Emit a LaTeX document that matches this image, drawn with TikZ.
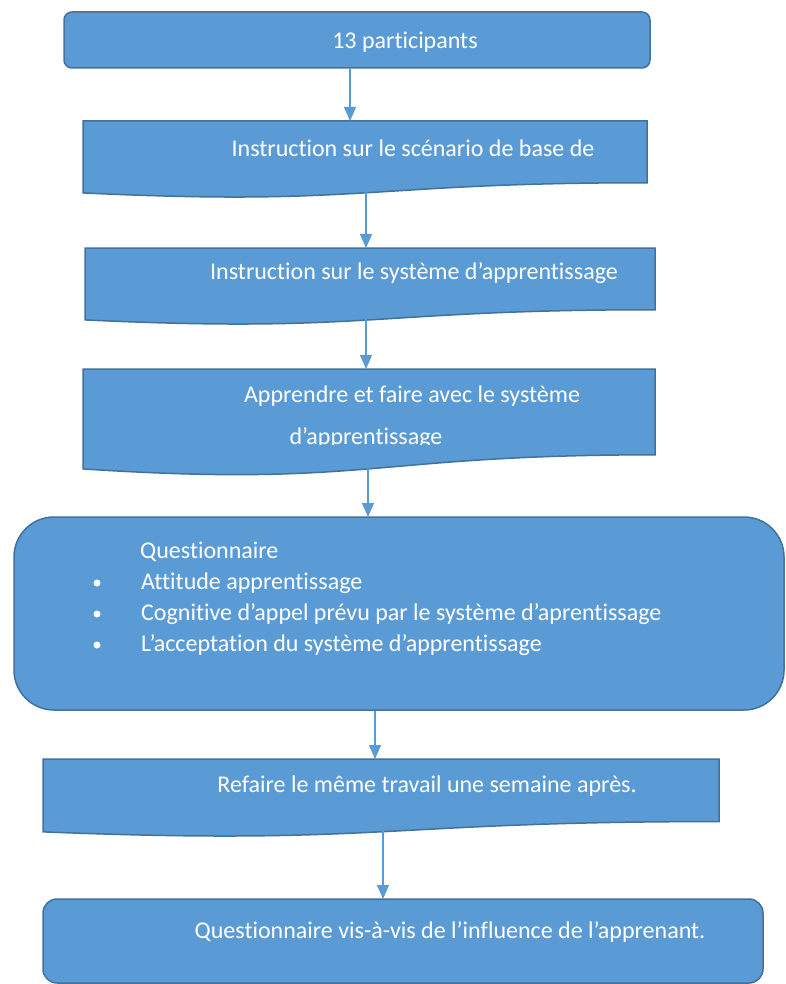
\documentclass[tikz,border=0pt]{standalone}
\usepackage{fontspec}
\setmainfont{Carlito}[Ligatures=NoCommon]
\usetikzlibrary{arrows.meta}
\definecolor{boxfill}{HTML}{5B9BD5}
\definecolor{boxline}{HTML}{41719C}
\newcommand\docbox[4]{\draw[boxshape] (#1,#3) -- (#2,#3) -- (#2,{#3+0.802*#4}) .. controls ({(#1+#2)/2},{#3+0.802*#4}) and ({(#1+#2)/2},{#3+1.1075*#4}) .. (#1,{#3+0.934*#4}) -- cycle;}
\begin{document}
\begin{tikzpicture}[x=1pt,y=-1pt,
  boxshape/.style={fill=boxfill,draw=boxline,line width=1.5pt},
  lbl/.style={text=white,font=\fontsize{24}{28}\selectfont,inner sep=0pt},
  conn/.style={draw=boxfill,line width=1.3pt,-{Triangle[width=12pt,length=14pt]}}]
\clip (0,0) rectangle (786,984);
\fill[white] (0,0) rectangle (786,984);
% shapes
\draw[boxshape,rounded corners=8pt] (64,12) rectangle (650,68);
\docbox{83}{647}{121}{77}
\docbox{85}{655}{248}{77}
\docbox{83}{655}{369}{107}
\draw[boxshape,rounded corners=40pt] (14,517) rectangle (784,710);
\docbox{43}{719}{759}{78}
\draw[boxshape,rounded corners=14pt] (43,899) rectangle (763,983);
% texts
\node[lbl] (t1) at (405,42) {13 participants};
\node[lbl] (t2) at (413,148) {Instruction sur le scénario de base de};
\node[lbl] (t3) at (414,273) {Instruction sur le système d’apprentissage};
\node[lbl] (t4a) at (412,396) {Apprendre et faire avec le système};
\begin{scope}
\clip (200,420) rectangle (500,444.5);
\node[lbl] (t4b) at (366,438) {d’apprentissage};
\end{scope}
\node[lbl,anchor=west] (t5) at (140,552) {Questionnaire};
\node[lbl,anchor=west] (t5a) at (141,583) {Attitude apprentissage};
\node[lbl,anchor=west] (t5b) at (141,614) {Cognitive d’appel prévu par le système d’aprentissage};
\node[lbl,anchor=west] (t5c) at (141,645) {L’acceptation du système d’apprentissage};
\foreach \yy/\nm in {583/ba,614/bb,645/bc}
  \node[fill=white,circle,inner sep=0pt,minimum size=7pt] (\nm) at (97,\yy) {};
\node[lbl] (t6) at (427,786) {Refaire le même travail une semaine après.};
\node[lbl] (t7) at (450,932) {Questionnaire vis-à-vis de l’influence de l’apprenant.};
% connectors
\coordinate (a1s) at (350,69); \coordinate (a1e) at (350,121);
\coordinate (a2s) at (366,192); \coordinate (a2e) at (366,248);
\coordinate (a3s) at (366,318); \coordinate (a3e) at (366,369);
\coordinate (a4s) at (368,468); \coordinate (a4e) at (368,517);
\coordinate (a5s) at (375,711); \coordinate (a5e) at (375,759);
\coordinate (a6s) at (383,831); \coordinate (a6e) at (383,899);
\draw[conn] (a1s) -- (a1e);
\draw[conn] (a2s) -- (a2e);
\draw[conn] (a3s) -- (a3e);
\draw[conn] (a4s) -- (a4e);
\draw[conn] (a5s) -- (a5e);
\draw[conn] (a6s) -- (a6e);
\end{tikzpicture}
\end{document}
